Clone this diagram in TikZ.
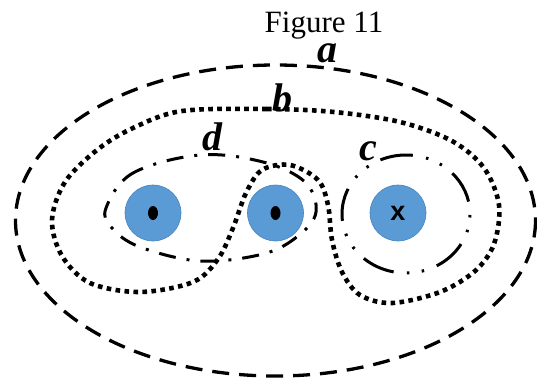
\documentclass[tikz,border=0pt]{standalone}
\usepackage{fontspec}
\setmainfont{Liberation Serif}
\newfontfamily\sansb{Liberation Sans}
\usetikzlibrary{shapes.geometric}
\definecolor{disc}{RGB}{91,155,213}
\definecolor{discedge}{RGB}{72,130,190}
\tikzset{
  curvea/.style={line width=3.3pt, dash pattern=on 17pt off 10pt},
  curveb/.style={line width=4.6pt, dash pattern=on 4.6pt off 4.4pt},
  curvec/.style={line width=3pt, dash pattern=on 33pt off 13.5pt on 2.5pt off 12.5pt on 2.5pt off 13.3pt, dash phase=45.5pt},
  curved/.style={line width=3pt, dash pattern=on 17pt off 11pt on 3pt off 11pt, dash phase=6pt},
  discnode/.style={circle, fill=disc, draw=discedge, line width=0.6pt, minimum size=56pt, inner sep=0pt},
  lbl/.style={font=\fontsize{40}{40}\selectfont\bfseries\itshape, anchor=base, inner sep=0pt},
}
\begin{document}
\begin{tikzpicture}[x=1pt,y=-1pt]
\useasboundingbox (0,0) rectangle (537,380);
% title
\node[font=\fontsize{31}{31}\selectfont, anchor=base, inner sep=0pt] (title) at (324,32) {Figure 11};
% curve a
\draw[curvea] (275.5,220.5) ellipse [x radius=260, y radius=155.5];
% curve b
\draw[curveb] plot[smooth cycle, tension=0.55] coordinates {
 (182,111) (267,109) (334,112) (400,122) (452,141) (484,168) (499,205) (494,244)
 (475,271) (440,292) (392,303) (360,295) (342,272) (332,240) (328,205) (318,180)
 (290,165) (262,170) (246,193) (233,228) (218,259) (193,282) (140,292) (90,283)
 (62,256) (52,220) (65,182) (97,150) (133,128)};
% curve d
\draw[curved] plot[smooth cycle, tension=0.6] coordinates {
 (106,208) (133,173) (200,155) (263,162) (305,182) (316,212) (298,236) (263,254)
 (200,261) (140,247) (112,228)};
% curve c
\draw[curvec] (406,214) ellipse [x radius=64, y radius=59];
% discs
\node[discnode] (p1) at (153,213) {};
\node[discnode] (p2) at (275.5,213) {};
\node[discnode] (p3) at (398,213) {};
\fill (p1.center) ellipse [x radius=5, y radius=7];
\fill (p2.center) ellipse [x radius=5, y radius=7];
\node[font=\sansb\fontsize{27}{27}\selectfont\bfseries, inner sep=0pt] (xl) at (p3.center) {x};
% labels
\node[lbl, text height=19pt] (la) at (327,62) {a};
\node[lbl] (lb) at (282,111) {b};
\node[lbl, text height=19pt] (lc) at (368,160) {c};
\node[lbl] (ld) at (212,150) {d};
\end{tikzpicture}
\end{document}
